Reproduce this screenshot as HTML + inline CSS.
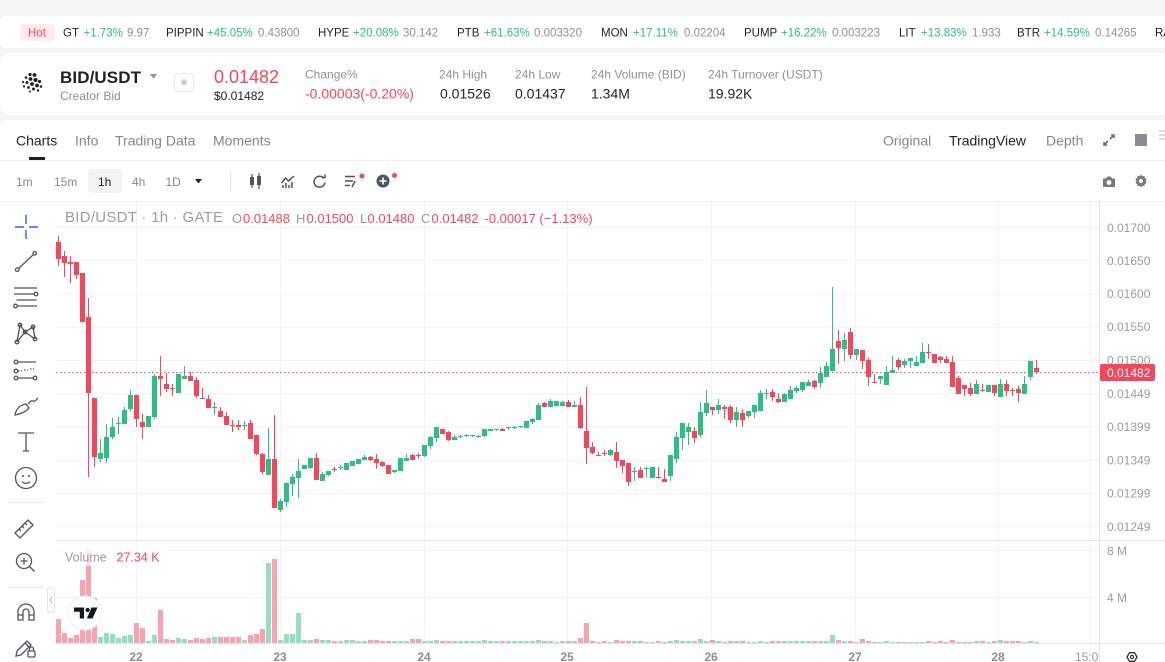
<!DOCTYPE html>
<html><head><meta charset="utf-8">
<style>
html,body{margin:0;padding:0;width:1165px;height:662px;overflow:hidden;background:#f4f5f7}
svg{display:block;font-family:"Liberation Sans",Arial,sans-serif}
</style></head>
<body>
<svg id="s" width="1165" height="662" viewBox="0 0 1165 662" xmlns="http://www.w3.org/2000/svg">
<rect width="1165" height="662" fill="#f4f5f7"/>
<!-- cards -->
<rect x="0" y="16" width="1170" height="32" rx="6" fill="#fff"/>
<rect x="0" y="53" width="1170" height="62" rx="8" fill="#fff"/>
<rect x="0" y="120" width="1170" height="560" rx="8" fill="#fff"/>

<!-- ticker -->
<rect x="20" y="24" width="35" height="17" rx="3" fill="#feeced"/>
<g font-size="11.5">
<text x="28" y="36.5" fill="#f6465d">Hot</text>
<text x="63" y="36.5" fill="#1e2329">GT</text><text x="83.5" y="36.5" fill="#2ebd85">+1.73%</text><text x="127" y="36.5" fill="#8e9196">9.97</text>
<text x="166" y="36.5" fill="#1e2329">PIPPIN</text><text x="207" y="36.5" fill="#2ebd85">+45.05%</text><text x="258" y="36.5" fill="#8e9196">0.43800</text>
<text x="318" y="36.5" fill="#1e2329">HYPE</text><text x="353" y="36.5" fill="#2ebd85">+20.08%</text><text x="403" y="36.5" fill="#8e9196">30.142</text>
<text x="457" y="36.5" fill="#1e2329">PTB</text><text x="484" y="36.5" fill="#2ebd85">+61.63%</text><text x="534" y="36.5" fill="#8e9196">0.003320</text>
<text x="601" y="36.5" fill="#1e2329">MON</text><text x="633" y="36.5" fill="#2ebd85">+17.11%</text><text x="684" y="36.5" fill="#8e9196">0.02204</text>
<text x="744" y="36.5" fill="#1e2329">PUMP</text><text x="781" y="36.5" fill="#2ebd85">+16.22%</text><text x="832" y="36.5" fill="#8e9196">0.003223</text>
<text x="899" y="36.5" fill="#1e2329">LIT</text><text x="921" y="36.5" fill="#2ebd85">+13.83%</text><text x="972" y="36.5" fill="#8e9196">1.933</text>
<text x="1017" y="36.5" fill="#1e2329">BTR</text><text x="1044" y="36.5" fill="#2ebd85">+14.59%</text><text x="1095" y="36.5" fill="#8e9196">0.14265</text>
<text x="1155" y="36.5" fill="#1e2329">RA</text>
</g>

<!-- header -->
<g fill="#1e2329">
<circle cx="30" cy="74.5" r="1.6"/><circle cx="34.5" cy="75" r="1.9"/><circle cx="26" cy="77.5" r="1.3"/><circle cx="30.5" cy="79" r="1.9"/><circle cx="35.5" cy="80" r="2.1"/><circle cx="39.5" cy="81.5" r="1.6"/><circle cx="23" cy="82" r="1.1"/><circle cx="27" cy="82.5" r="1.5"/><circle cx="32" cy="84" r="1.9"/><circle cx="37" cy="85.5" r="1.9"/><circle cx="41" cy="86.5" r="1.3"/><circle cx="24" cy="86.5" r="1.1"/><circle cx="28.5" cy="87.5" r="1.4"/><circle cx="33.5" cy="89" r="1.5"/><circle cx="38" cy="90.5" r="1.2"/><circle cx="30" cy="91.5" r="1"/>
</g>
<text x="60" y="83" font-size="17" font-weight="bold" fill="#1e2329" textLength="81">BID/USDT</text>
<path d="M150 74h7l-3.5 4.5z" fill="#8e9196"/>
<text x="60" y="100" font-size="12" fill="#8e9196">Creator Bid</text>
<rect x="174.5" y="73.5" width="19" height="18" rx="3" fill="none" stroke="#e6e8ea"/>
<path d="M184 78l1.2 2.6 2.8.3-2.1 1.9.6 2.8-2.5-1.4-2.5 1.4.6-2.8-2.1-1.9 2.8-.3z" fill="#c4c7cc"/>
<text x="214" y="83" font-size="18" fill="#f6465d">0.01482</text>
<text x="214" y="100" font-size="12" fill="#1e2329">$0.01482</text>
<g font-size="12" fill="#8e9196">
<text x="305" y="78.5">Change%</text><text x="439" y="78.5">24h High</text><text x="515" y="78.5">24h Low</text><text x="591" y="78.5">24h Volume (BID)</text><text x="708" y="78.5">24h Turnover (USDT)</text>
</g>
<g font-size="14" fill="#1e2329">
<text x="305" y="98.5" fill="#f6465d">-0.00003(-0.20%)</text><text x="440" y="98.5">0.01526</text><text x="515" y="98.5">0.01437</text><text x="591" y="98.5">1.34M</text><text x="708" y="98.5">19.92K</text>
</g>

<!-- tabs -->
<g font-size="14" fill="#84878d">
<text x="16" y="145.5" fill="#1e2329">Charts</text><text x="75" y="145.5">Info</text><text x="115" y="145.5">Trading Data</text><text x="213" y="145.5">Moments</text>
<text x="883" y="145.5">Original</text><text x="949" y="145.5" fill="#1e2329">TradingView</text><text x="1046" y="145.5">Depth</text>
</g>
<rect x="29" y="157" width="16" height="3" fill="#1e2329"/>
<g stroke="#6b6f76" stroke-width="1.6" fill="none"><path d="M1104 145l4-4M1110 139l4-4M1111 135h3v3M1104 142v3h3"/></g>
<rect x="1135" y="134" width="12" height="12" fill="#8a8d93"/>
<g stroke="#c4c7cc" stroke-width="1.2"><path d="M1159 131h6M1159 135h6M1159 139h6"/></g>
<line x1="0" y1="160.5" x2="1165" y2="160.5" stroke="#eef0f2"/>

<!-- toolbar -->
<rect x="88" y="169" width="34" height="24" rx="4" fill="#f2f3f5"/>
<g font-size="12" fill="#84878d">
<text x="16" y="186">1m</text><text x="54" y="186">15m</text><text x="98" y="186" fill="#1e2329">1h</text><text x="132" y="186">4h</text><text x="165.5" y="186">1D</text>
</g>
<path d="M195 179h7l-3.5 4.5z" fill="#1e2329"/>
<line x1="230.5" y1="172" x2="230.5" y2="191" stroke="#dfe1e4"/>
<g fill="#4e5461" stroke="#4e5461">
<rect x="250" y="177" width="4" height="8" stroke="none"/><line x1="252" y1="174" x2="252" y2="188" stroke-width="1.2"/>
<rect x="257" y="176" width="4" height="9" stroke="none"/><line x1="259" y1="173" x2="259" y2="189" stroke-width="1.2"/>
</g>
<g stroke="#4e5461" stroke-width="1.5" fill="none">
<path d="M283 188v-3M286 188v-5M289 188v-3M292 188v-6"/><path d="M281.5 183l4-5 3 3 5.5-5"/>
<path d="M324 178.5a5.5 5.5 0 1 0 1 4"/><path d="M322 177.5h3v-3"/>
<path d="M345 176.5h10M345 181h8M345 185.5h5M352 187l3-6"/>
</g>
<circle cx="362" cy="176" r="2.5" fill="#f6465d"/>
<circle cx="383" cy="181" r="6.5" fill="#4e5461"/><path d="M383 177.5v7M379.5 181h7" stroke="#fff" stroke-width="1.6"/>
<circle cx="394.5" cy="175.5" r="2.5" fill="#f6465d"/>
<g fill="#777a80">
<path d="M1103 178.5h3l1.5-2h3l1.5 2h3v8.5h-12z"/>
<path d="M1141 174.5l1.3 1.7 2.1-.4.4 2.1 1.8 1.2-1 1.9 1 1.9-1.8 1.2-.4 2.1-2.1-.4-1.3 1.7-1.3-1.7-2.1.4-.4-2.1-1.8-1.2 1-1.9-1-1.9 1.8-1.2.4-2.1 2.1.4z"/>
</g>
<circle cx="1109" cy="182.5" r="2.4" fill="#fff"/>
<circle cx="1141" cy="181" r="2" fill="#fff"/>
<line x1="0" y1="201.5" x2="1165" y2="201.5" stroke="#eef0f2"/>

<!-- left drawing toolbar -->
<g stroke="#2962ff" stroke-width="1.4"><path d="M26 215v9M26 230v9M15 227h9M29 227h9"/></g>
<g stroke="#4e5461" stroke-width="1.3" fill="none">
<path d="M18.5 268.5L33.5 254.5"/><circle cx="17.3" cy="269.7" r="1.8"/><circle cx="34.7" cy="253.3" r="1.8"/>
<path d="M14 288h23M14 294h20M16.5 300h20M18 306h19"/><circle cx="36" cy="294" r="1.8"/><circle cx="15.5" cy="306" r="1.8"/>
<path d="M17 342L20 325L25 332L33 327L35 339M17 342L25 332L35 339"/><circle cx="20" cy="325" r="1.8"/><circle cx="33" cy="327" r="1.8"/><circle cx="25" cy="332" r="1.8"/><circle cx="17" cy="342" r="1.8"/><circle cx="35" cy="339" r="1.8"/>
<path d="M18 362h18M18 378h15"/><path d="M18 371h4M24 370h4M30 369h4" stroke-dasharray="1.5 1.5"/><circle cx="16" cy="362" r="1.8"/><circle cx="16" cy="371" r="1.8"/><circle cx="16" cy="378" r="1.8"/><circle cx="35" cy="378" r="1.8"/>
<path d="M15 415c1-6 5-10 11-11l3 4c-3 4-9 6-14 7zM28 404c2-2 3-4 5-3 2 1 3-1 5-3"/>
<path d="M18 433h16M26 433v18M23 451h6"/>
<circle cx="26" cy="478" r="10.5"/><path d="M22 481.5c2 2.5 6 2.5 8 0"/>
<path d="M15 533l13-13 5 5-13 13zM19 529l2 2M22 526l2 2M25 523l2 2"/>
<circle cx="24" cy="561" r="7.5"/><path d="M29.5 566.5l5 5M24 557.5v7M20.5 561h7"/>
<path d="M18 620v-8a8 8 0 0 1 16 0v8h-5v-8a3 3 0 0 0-6 0v8zM18 615h5M29 615h5"/>
<path d="M16 656l1-5 10-10 4 4-10 10zM25 643l4 4"/><rect x="28" y="651" width="7" height="6" rx="1"/><path d="M29.5 651v-2a2 2 0 0 1 4 0v2"/>
</g>
<g fill="#4e5461"><circle cx="23" cy="476" r="1"/><circle cx="29" cy="476" r="1"/></g>
<line x1="8" y1="502.5" x2="44" y2="502.5" stroke="#e6e8ea"/>
<line x1="8" y1="587.5" x2="44" y2="587.5" stroke="#e6e8ea"/>
<rect x="47.5" y="587.5" width="7" height="25" rx="3" fill="#fff" stroke="#e3e5e8"/>
<path d="M52 597l-2 3 2 3" stroke="#aaa" fill="none"/>

<!-- chart grid -->
<g stroke="#f0f2f5" stroke-width="1">
<path d="M56 227.5H1099M56 260.8H1099M56 294H1099M56 327.3H1099M56 360.5H1099M56 393.8H1099M56 427H1099M56 460.3H1099M56 493.5H1099M56 526.8H1099M56 550.5H1099M56 597.5H1099"/>
<path d="M136.5 202V643M280.5 202V643M424.5 202V643M567.5 202V643M711.5 202V643M855.5 202V643M998.5 202V643M1090.5 202V643"/>
</g>
<line x1="56" y1="540.5" x2="1165" y2="540.5" stroke="#e3e5ea"/>
<line x1="56" y1="643.5" x2="1165" y2="643.5" stroke="#e3e5ea"/>
<line x1="1099.5" y1="202" x2="1099.5" y2="662" stroke="#e3e5ea"/>

<g id="cd"></g>

<!-- price line -->
<line x1="56" y1="372.5" x2="1099" y2="372.5" stroke="#f6465d" stroke-width="1" stroke-dasharray="1.5 2.5"/>

<!-- y axis labels -->
<g font-size="12" fill="#9a9da3">
<text x="1107" y="232">0.01700</text><text x="1107" y="265">0.01650</text><text x="1107" y="298">0.01600</text><text x="1107" y="331">0.01550</text><text x="1107" y="364.5">0.01500</text><text x="1107" y="398">0.01449</text><text x="1107" y="431">0.01399</text><text x="1107" y="464.5">0.01349</text><text x="1107" y="497.5">0.01299</text><text x="1107" y="531">0.01249</text>
<text x="1107" y="555">8 M</text><text x="1107" y="602">4 M</text>
</g>
<rect x="1100" y="364" width="55" height="17" rx="2" fill="#f6465d"/>
<text x="1107" y="377" font-size="12" fill="#fff">0.01482</text>

<!-- legends -->
<text x="65" y="222" font-size="15" fill="#9a9da3" textLength="158">BID/USDT · 1h · GATE</text>
<g font-size="13">
<text x="232" y="223" fill="#9a9da3">O</text><text x="243" y="223" fill="#f6465d">0.01488</text>
<text x="296" y="223" fill="#9a9da3">H</text><text x="306.5" y="223" fill="#f6465d">0.01500</text>
<text x="360" y="223" fill="#9a9da3">L</text><text x="367.5" y="223" fill="#f6465d">0.01480</text>
<text x="421" y="223" fill="#9a9da3">C</text><text x="431.5" y="223" fill="#f6465d">0.01482</text>
<text x="484.5" y="223" fill="#f6465d">-0.00017 (−1.13%)</text>
</g>
<rect x="60" y="549" width="106" height="17" fill="#fff" fill-opacity="0.7"/>
<text x="65" y="561.5" font-size="12.5" fill="#9a9da3">Volume</text>
<text x="116.5" y="561.5" font-size="12.5" fill="#f6465d">27.34 K</text>

<!-- TV logo -->
<circle cx="85" cy="613" r="17" fill="#fff" stroke="#eceef1"/>
<path d="M74 607.5h10v11h-4.2v-6.8H74z" fill="#131722"/>
<circle cx="87.6" cy="610" r="2.1" fill="#131722"/>
<path d="M91.5 607.5h6l-5 11h-5.6z" fill="#131722"/>

<!-- x axis -->
<g font-size="12" font-weight="bold" fill="#8a8d93">
<text x="136" y="661" text-anchor="middle">22</text><text x="280" y="661" text-anchor="middle">23</text><text x="424" y="661" text-anchor="middle">24</text><text x="567" y="661" text-anchor="middle">25</text><text x="711" y="661" text-anchor="middle">26</text><text x="855" y="661" text-anchor="middle">27</text><text x="998" y="661" text-anchor="middle">28</text>
</g>
<clipPath id="cl"><rect x="56" y="644" width="1043" height="18"/></clipPath>
<text x="1075" y="661" font-size="12" fill="#9a9da3" clip-path="url(#cl)">15:00</text>
<path d="M1127 657l2.5-4.3h5l2.5 4.3-2.5 4.3h-5z" fill="none" stroke="#333" stroke-width="1.3"/>
<circle cx="1132" cy="657" r="1.6" fill="none" stroke="#333" stroke-width="1.2"/>
</svg>
<script>
var D=[[242,259,236,266],[256,263,251,277],[262,264,256,283],[262,275,262,279],[273,322,273,322],[317,393,298,477],[398,457,398,467],[459,453,439,462],[458,437,424,463],[437,427,418,439],
[424,423,417,434],[424,410,407,424],[409,395,390,411],[395,419,395,427],[422,427,414,439],[427,416,416,427],[417,376,374,419],[376,379,356,396],[384,389,373,392],[388,389,384,396],
[393,374,374,393],[379,376,366,379],[376,381,372,381],[380,396,377,398],[398,399,388,399],[399,408,395,408],[408,407,402,415],[411,417,407,417],[416,425,412,425],[425,426,420,432],
[425,427,420,430],[426,425,421,430],[423,439,420,439],[435,454,435,455],[454,472,453,474],[475,459,428,475],[459,508,415,508],[510,501,499,512],[502,483,483,507],[484,477,474,496],
[478,471,459,498],[469,465,465,469],[468,458,458,469],[458,480,453,480],[481,474,472,481],[475,471,471,476],[469,470,467,472],[468,467,465,470],[470,463,463,470],[466,461,461,466],
[464,459,459,464],[460,457,455,460],[457,460,456,461],[459,463,454,469],[462,466,461,467],[465,474,465,474],[472,470,470,473],[471,458,458,471],[461,458,454,461],[455,460,454,460],
[455,456,453,459],[456,445,445,457],[446,437,436,449],[438,427,427,442],[429,434,429,434],[432,440,431,441],[440,437,435,440],[437,436,435,438],[436,435,434,437],[436,435,435,437],
[437,436,435,438],[436,429,429,437],[431,429,429,431],[430,429,429,431],[429,431,428,431],[428,427,427,430],[428,427,426,429],[427,426,426,428],[428,421,421,428],[422,419,418,424],
[420,405,403,420],[403,407,402,407],[407,401,399,407],[406,401,401,406],[406,402,401,406],[402,407,400,407],[407,405,401,407],[405,428,397,429],[431,448,387,464],[447,453,442,454],
[455,456,452,456],[453,454,450,456],[455,450,449,456],[452,461,442,468],[460,466,460,473],[463,482,463,486],[472,471,467,481],[470,478,467,478],[469,468,467,477],[478,467,467,478],
[477,478,467,479],[479,482,469,482],[476,455,455,481],[459,437,432,463],[438,423,423,450],[432,427,423,445],[431,438,427,443],[435,412,402,437],[413,403,390,416],[407,410,407,415],
[410,405,399,414],[407,409,405,419],[407,420,405,423],[420,412,407,427],[413,420,409,427],[416,411,411,418],[412,405,405,418],[411,393,390,411],[394,393,389,399],[392,397,389,401],
[399,402,393,403],[402,394,393,402],[399,390,386,399],[391,388,386,393],[390,382,382,392],[386,382,380,386],[381,387,380,389],[383,373,367,388],[377,366,362,377],[371,349,287,371],
[341,348,330,364],[349,340,333,361],[332,355,328,359],[355,349,349,360],[350,361,350,369],[360,377,358,386],[382,383,374,383],[379,376,376,384],[385,372,366,385],[373,370,356,373],
[360,367,358,370],[365,361,359,368],[361,358,358,368],[366,362,356,366],[363,352,343,363],[352,353,344,359],[354,363,354,363],[357,360,356,363],[359,363,356,363],[362,387,356,387],
[378,394,376,394],[385,389,385,396],[388,394,383,396],[394,384,380,394],[390,391,384,392],[392,385,385,392],[385,393,385,396],[397,384,379,397],[384,391,380,396],[390,391,388,396],
[389,393,386,402],[394,384,376,394],[377,361,361,380],[368,372,360,374]];
var V=[24,10,5,8,63,92,45,6,10,9,5,7,8,20,15,2,8,33,4,3,5,4,3,5,4,5,6,6,6,6,6,3,8,9,14,80,84,3,9,9,30,3,3,4,
3,3,2,2,3,3,2,2,3,3,
2,2,2,2,2,4,4,2,2,3,2,2,2,2,2,2,2,3,2,2,2,2,2,2,2,2,3,2,2,1,2,2,2,5,20,2,1,2,1,3,2,2,2,2,1,1,2,1,2,3,
2,2,2,4,2,3,2,1,2,2,2,1,1,2,1,2,2,2,2,2,2,2,2,2,2,8,3,2,2,1,4,2,1,1,2,1,1,1,1,1,1,2,1,2,1,3,1,1,1,2,2,1,2,3,2,2,2,1,2,1];
(function(){
var NS="http://www.w3.org/2000/svg",g=document.getElementById('cd');
function r(x,y,w,h,f){var e=document.createElementNS(NS,'rect');e.setAttribute('x',x);e.setAttribute('y',y);e.setAttribute('width',w);e.setAttribute('height',h);e.setAttribute('fill',f);g.appendChild(e);}
for(var i=0;i<D.length;i++){
var d=D[i],o=d[0],c=d[1],h=d[2],l=d[3],up=c<o,col=up?'#2ebd85':'#f6465d',x=56+6*i;
var vh=V[i]||2;r(x,643-vh,5,vh,up?'#96dec2':'#fba2ae');
r(x+2,h,1,Math.max(1,l-h),col);
r(x,Math.min(o,c),5,Math.max(1,Math.abs(o-c)),col);
}
})();
</script>
</body></html>
